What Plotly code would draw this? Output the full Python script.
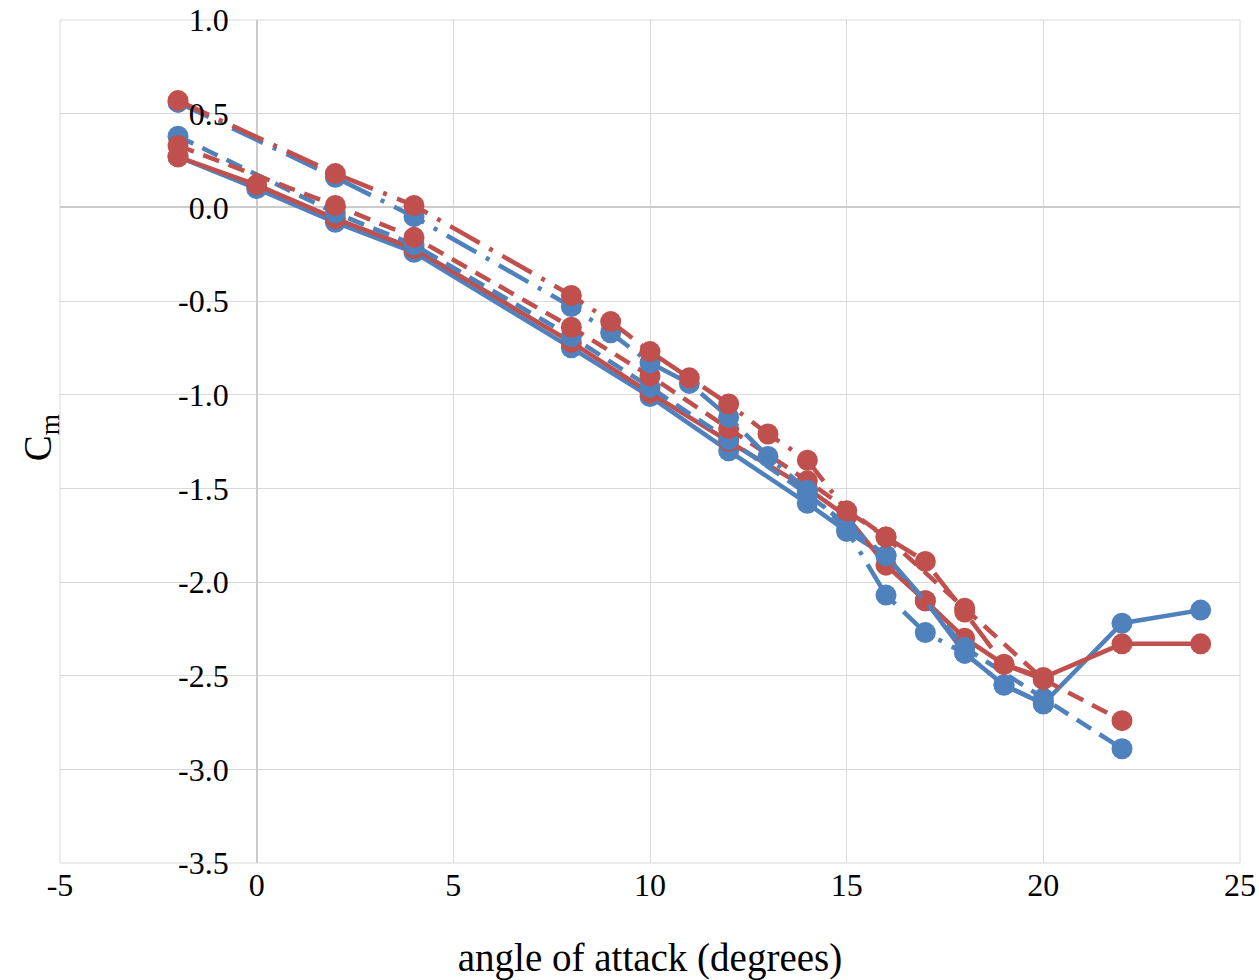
import plotly.graph_objects as go

# ---- data ----
x_solid = [-2, 0, 2, 4, 8, 10, 12, 14, 15, 16, 17, 18, 19, 20, 22, 24]
blue_solid = [0.27, 0.10, -0.08, -0.24, -0.75, -1.01, -1.30, -1.58, -1.73, -1.86, -2.10, -2.38, -2.55, -2.65, -2.22, -2.15]
red_solid = [0.27, 0.12, -0.06, -0.22, -0.72, -0.99, -1.25, -1.50, -1.65, -1.91, -2.10, -2.30, -2.44, -2.51, -2.33, -2.33]

x_dash = [-2, 2, 4, 8, 10, 12, 14, 16, 18, 20, 22]
blue_dash = [0.38, -0.03, -0.20, -0.69, -0.96, -1.24, -1.53, -1.86, -2.35, -2.62, -2.89]
red_dash = [0.33, 0.01, -0.16, -0.64, -0.90, -1.18, -1.46, -1.76, -2.14, -2.52, -2.74]

x_dashdot = [-2, 2, 4, 8, 9, 10, 11, 12, 13, 14, 15, 16, 17, 18, 19, 20]
blue_dashdot = [0.56, 0.16, -0.05, -0.53, -0.67, -0.83, -0.94, -1.12, -1.33, -1.51, -1.72, -2.07, -2.27, -2.38, -2.55, -2.65]
red_dashdot = [0.57, 0.18, 0.01, -0.47, -0.61, -0.77, -0.91, -1.05, -1.21, -1.35, -1.62, -1.76, -1.89, -2.16, -2.44, -2.52]

x_ticks = [-5, 0, 5, 10, 15, 20, 25]
y_ticks = [1.0, 0.5, 0.0, -0.5, -1.0, -1.5, -2.0, -2.5, -3.0, -3.5]
y_tick_text = ["1.0", "0.5", "0.0", "-0.5", "-1.0", "-1.5", "-2.0", "-2.5", "-3.0", "-3.5"]

BLUE = "#4F81BD"
RED = "#C0504D"
GRID = "#d9d9d9"
FONT = "Liberation Serif, Times New Roman, serif"

series = [
    (x_solid, blue_solid, BLUE, "solid", "blue solid"),
    (x_solid, red_solid, RED, "solid", "red solid"),
    (x_dash, blue_dash, BLUE, "17px,10px", "blue dashed"),
    (x_dash, red_dash, RED, "17px,10px", "red dashed"),
    (x_dashdot, blue_dashdot, BLUE, "34px,11px,4px,11px", "blue dash-dot"),
    (x_dashdot, red_dashdot, RED, "34px,11px,4px,11px", "red dash-dot"),
]

fig = go.Figure()
for xs, ys, col, dash, name in series:
    fig.add_trace(go.Scatter(
        x=xs, y=ys, mode="lines+markers", name=name,
        line=dict(color=col, width=4.5, dash=dash),
        marker=dict(color=col, size=21, line=dict(width=0)),
        showlegend=False,
    ))

fig.update_layout(
    width=1259, height=980,
    margin=dict(l=60, r=19, t=20, b=117),
    paper_bgcolor="white", plot_bgcolor="white",
    font=dict(family=FONT, size=32, color="black"),
    xaxis=dict(
        range=[-5, 25], tickvals=x_ticks, ticktext=[str(v) for v in x_ticks],
        showgrid=True, gridcolor=GRID, gridwidth=1,
        zeroline=True, zerolinecolor="#cccccc", zerolinewidth=1.5,
        showline=False, automargin=False,
        ticks="", tickfont=dict(family=FONT, size=32),
        title=dict(text="angle of attack (degrees)", font=dict(family=FONT, size=39), standoff=42),
    ),
    yaxis=dict(
        range=[-3.5, 1.0], tickvals=y_ticks, ticktext=y_tick_text,
        anchor="free", position=5 / 30, automargin=False,
        showgrid=True, gridcolor=GRID, gridwidth=1,
        zeroline=True, zerolinecolor="#cccccc", zerolinewidth=1.5,
        showline=False, ticks="", ticklabelstandoff=28,
        tickfont=dict(family=FONT, size=32),
    ),
    shapes=[dict(
        type="rect", xref="paper", yref="paper", x0=0, y0=0, x1=1, y1=1,
        line=dict(color=GRID, width=1), layer="below",
    )],
    annotations=[dict(
        text="C<sub>m</sub>", xref="paper", yref="paper", x=-0.017, y=0.505,
        xanchor="center", yanchor="middle", textangle=-90, showarrow=False,
        font=dict(family=FONT, size=39),
    )],
)

fig.write_html("out.html")
